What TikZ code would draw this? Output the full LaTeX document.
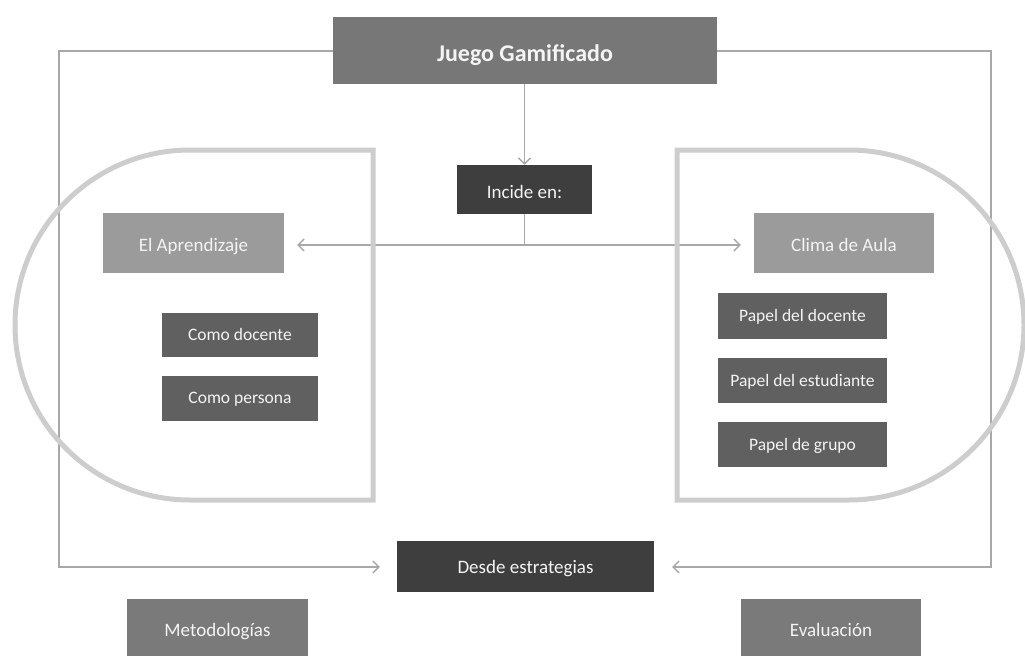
\documentclass[tikz,border=0pt]{standalone}
\usepackage{fontspec}
\setmainfont{Carlito}
\usetikzlibrary{arrows.meta}
\definecolor{cTitle}{HTML}{777777}
\definecolor{cDark}{HTML}{3E3E3E}
\definecolor{cLight}{HTML}{9B9B9B}
\definecolor{cMid}{HTML}{606060}
\definecolor{cBot}{HTML}{7A7A7A}
\definecolor{cLine}{HTML}{A8A8A8}
\definecolor{cShape}{HTML}{CDCDCD}
\definecolor{cText}{HTML}{F4F4F4}
\tikzset{
  box/.style={rectangle, inner sep=0pt, text=cText, text height=17.2pt, text depth=0pt, font=\fontsize{19}{22}\selectfont},
  smallbox/.style={box, fill=cMid, text height=11.4pt, font=\fontsize{17.5}{20}\selectfont},
  conn/.style={draw=cLine, line width=1.3pt},
  tip/.style={-{Straight Barb[length=6pt,width=12pt,line width=1.3pt]}},
  bigshape/.style={draw=cShape, line width=5pt},
}
\begin{document}
\begin{tikzpicture}[x=1pt,y=-1pt]
\useasboundingbox (0,0) rectangle (1025,656);
% nodes
\node[box, fill=cTitle, minimum width=384pt, minimum height=67pt, text height=21.4pt, font=\bfseries\fontsize{24}{28}\selectfont] (jg) at (525,50.5) {Juego Gamificado};
\node[box, fill=cDark, minimum width=135pt, minimum height=49pt] (inc) at (524.5,189.5) {Incide en:};
\node[box, fill=cLight, minimum width=181pt, minimum height=60pt] (apr) at (193.5,243) {El Aprendizaje};
\node[box, fill=cLight, minimum width=180pt, minimum height=60pt] (cli) at (844,243) {Clima de Aula};
\node[smallbox, minimum width=156pt, minimum height=44pt] (cd) at (240,335) {Como docente};
\node[smallbox, minimum width=156pt, minimum height=45pt] (cp) at (240,398) {Como persona};
\node[smallbox, minimum width=169pt, minimum height=46pt] (pd) at (802.5,316) {Papel del docente};
\node[smallbox, minimum width=169pt, minimum height=45pt] (pe) at (802.5,380.5) {Papel del estudiante};
\node[smallbox, minimum width=169pt, minimum height=45pt] (pg) at (802.5,444.5) {Papel de grupo};
\node[box, fill=cDark, minimum width=257pt, minimum height=51pt, text height=13.6pt] (des) at (525.5,566.5) {Desde estrategias};
\node[box, fill=cBot, minimum width=181pt, minimum height=57pt] (met) at (217.5,627.5) {Metodologías};
\node[box, fill=cBot, minimum width=180pt, minimum height=57pt] (eva) at (831,627.5) {Evaluación};
% connector corners
\coordinate (split) at (524.5,245);
\coordinate (tl) at (59,51);
\coordinate (bl) at (59,567);
\coordinate (tr) at (991,51);
\coordinate (br) at (991,567);
% connectors
\draw[conn, tip] (jg.south -| inc.north) -- (inc.north);
\draw[conn] (inc.south) -- (split);
\draw[conn, tip, shorten >=13pt] (split) -- (split -| apr.east);
\draw[conn, tip, shorten >=13pt] (split) -- (split -| cli.west);
\draw[conn, tip, shorten >=17pt] (jg.west |- tl) -- (tl) -- (bl) -- (bl -| des.west);
\draw[conn, tip, shorten >=18pt] (jg.east |- tr) -- (tr) -- (br) -- (br -| des.east);
% big shapes
\draw[bigshape] (373,150) -- (190,150) arc[start angle=270, end angle=90, radius=175] -- (373,500) -- cycle;
\draw[bigshape] (677,150) -- (849,150) arc[start angle=270, end angle=450, radius=175] -- (677,500) -- cycle;
\end{tikzpicture}
\end{document}
